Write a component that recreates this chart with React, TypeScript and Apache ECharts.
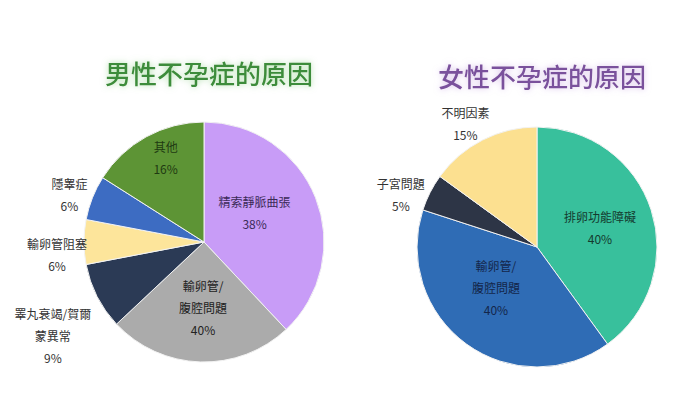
import React, { useEffect, useRef } from "react";
import * as echarts from "echarts";

// Left chart: male infertility causes
const maleCategories = ["精索靜脈曲張", "輸卵管/\n腹腔問題", "睪丸衰竭/賀爾\n蒙異常", "輸卵管阻塞", "隱睾症", "其他"];
const maleSliceValues = [38, 25, 9, 6, 6, 16]; // slice sizes as drawn
const malePercentLabels = ["38%", "40%", "9%", "6%", "6%", "16%"]; // printed labels
const maleColors = ["#c89cf7", "#ababab", "#2b3a55", "#fde59b", "#3d6cc2", "#5d9435"];
const maleLabelColors = ["#3b2a58", "#222222", "#333333", "#333333", "#333333", "#1f3a12"];

// Right chart: female infertility causes
const femaleCategories = ["排卵功能障礙", "輸卵管/\n腹腔問題", "子宮問題", "不明因素"];
const femaleSliceValues = [40, 40, 5, 15];
const femalePercentLabels = ["40%", "40%", "5%", "15%"];
const femaleColors = ["#38c09c", "#2f6cb5", "#2d3546", "#fce090"];
const femaleLabelColors = ["#143a2e", "#14264a", "#333333", "#333333"];

// label nudges (styling)
const maleLabelShift = [[-8, -6], [1, 3], [-95, 65], [-84, 12], [-76, -24], [-8, -29]];
const femaleLabelShift = [[3, 0], [-4, -10], [-80, -24], [-43, -67]];

const FONT = "'Noto Sans CJK TC', 'Noto Sans CJK SC', sans-serif";

function buildSeries(
  cats: string[], vals: number[], pcts: string[], colors: string[], lcolors: string[],
  shifts: number[][], center: [number, number]
) {
  return {
    type: "pie",
    radius: 120,
    center,
    startAngle: 90,
    clockwise: true,
    silent: true,
    itemStyle: { borderColor: "#f2f2f2", borderWidth: 1 },
    labelLine: { show: false },
    label: {
      show: true,
      position: "inside",
      fontFamily: FONT,
      fontSize: 12,
      lineHeight: 22,
      align: "center",
    },
    labelLayout: (p: any) => ({ dx: shifts[p.dataIndex][0], dy: shifts[p.dataIndex][1] }),
    data: cats.map((c, i) => ({
      name: c,
      value: vals[i],
      itemStyle: { color: colors[i] },
      label: { color: lcolors[i], formatter: `${c}\n${pcts[i]}` },
    })),
  };
}

export default function App() {
  const ref = useRef<HTMLDivElement>(null);
  useEffect(() => {
    document.body.style.margin = "0";
    const chart = echarts.init(ref.current!, undefined, { renderer: "svg" });
    chart.setOption({
      animation: false,
      backgroundColor: "#ffffff",
      title: [
        {
          text: "男性不孕症的原因",
          left: 204,
          top: 54,
          textAlign: "center",
          textStyle: {
            fontFamily: FONT,
            fontSize: 26,
            fontWeight: 500,
            color: "#3d8c3a",
            textShadowColor: "rgba(120,200,110,0.6)",
            textShadowBlur: 6,
          },
        },
        {
          text: "女性不孕症的原因",
          left: 537,
          top: 57,
          textAlign: "center",
          textStyle: {
            fontFamily: FONT,
            fontSize: 26,
            fontWeight: 500,
            color: "#7a519c",
            textShadowColor: "rgba(190,150,220,0.6)",
            textShadowBlur: 6,
          },
        },
      ],
      series: [
        buildSeries(maleCategories, maleSliceValues, malePercentLabels, maleColors, maleLabelColors, maleLabelShift, [204, 242]),
        buildSeries(femaleCategories, femaleSliceValues, femalePercentLabels, femaleColors, femaleLabelColors, femaleLabelShift, [537, 247]),
      ],
    });
    return () => chart.dispose();
  }, []);
  return <div ref={ref} style={{ width: 677, height: 397 }} />;
}
